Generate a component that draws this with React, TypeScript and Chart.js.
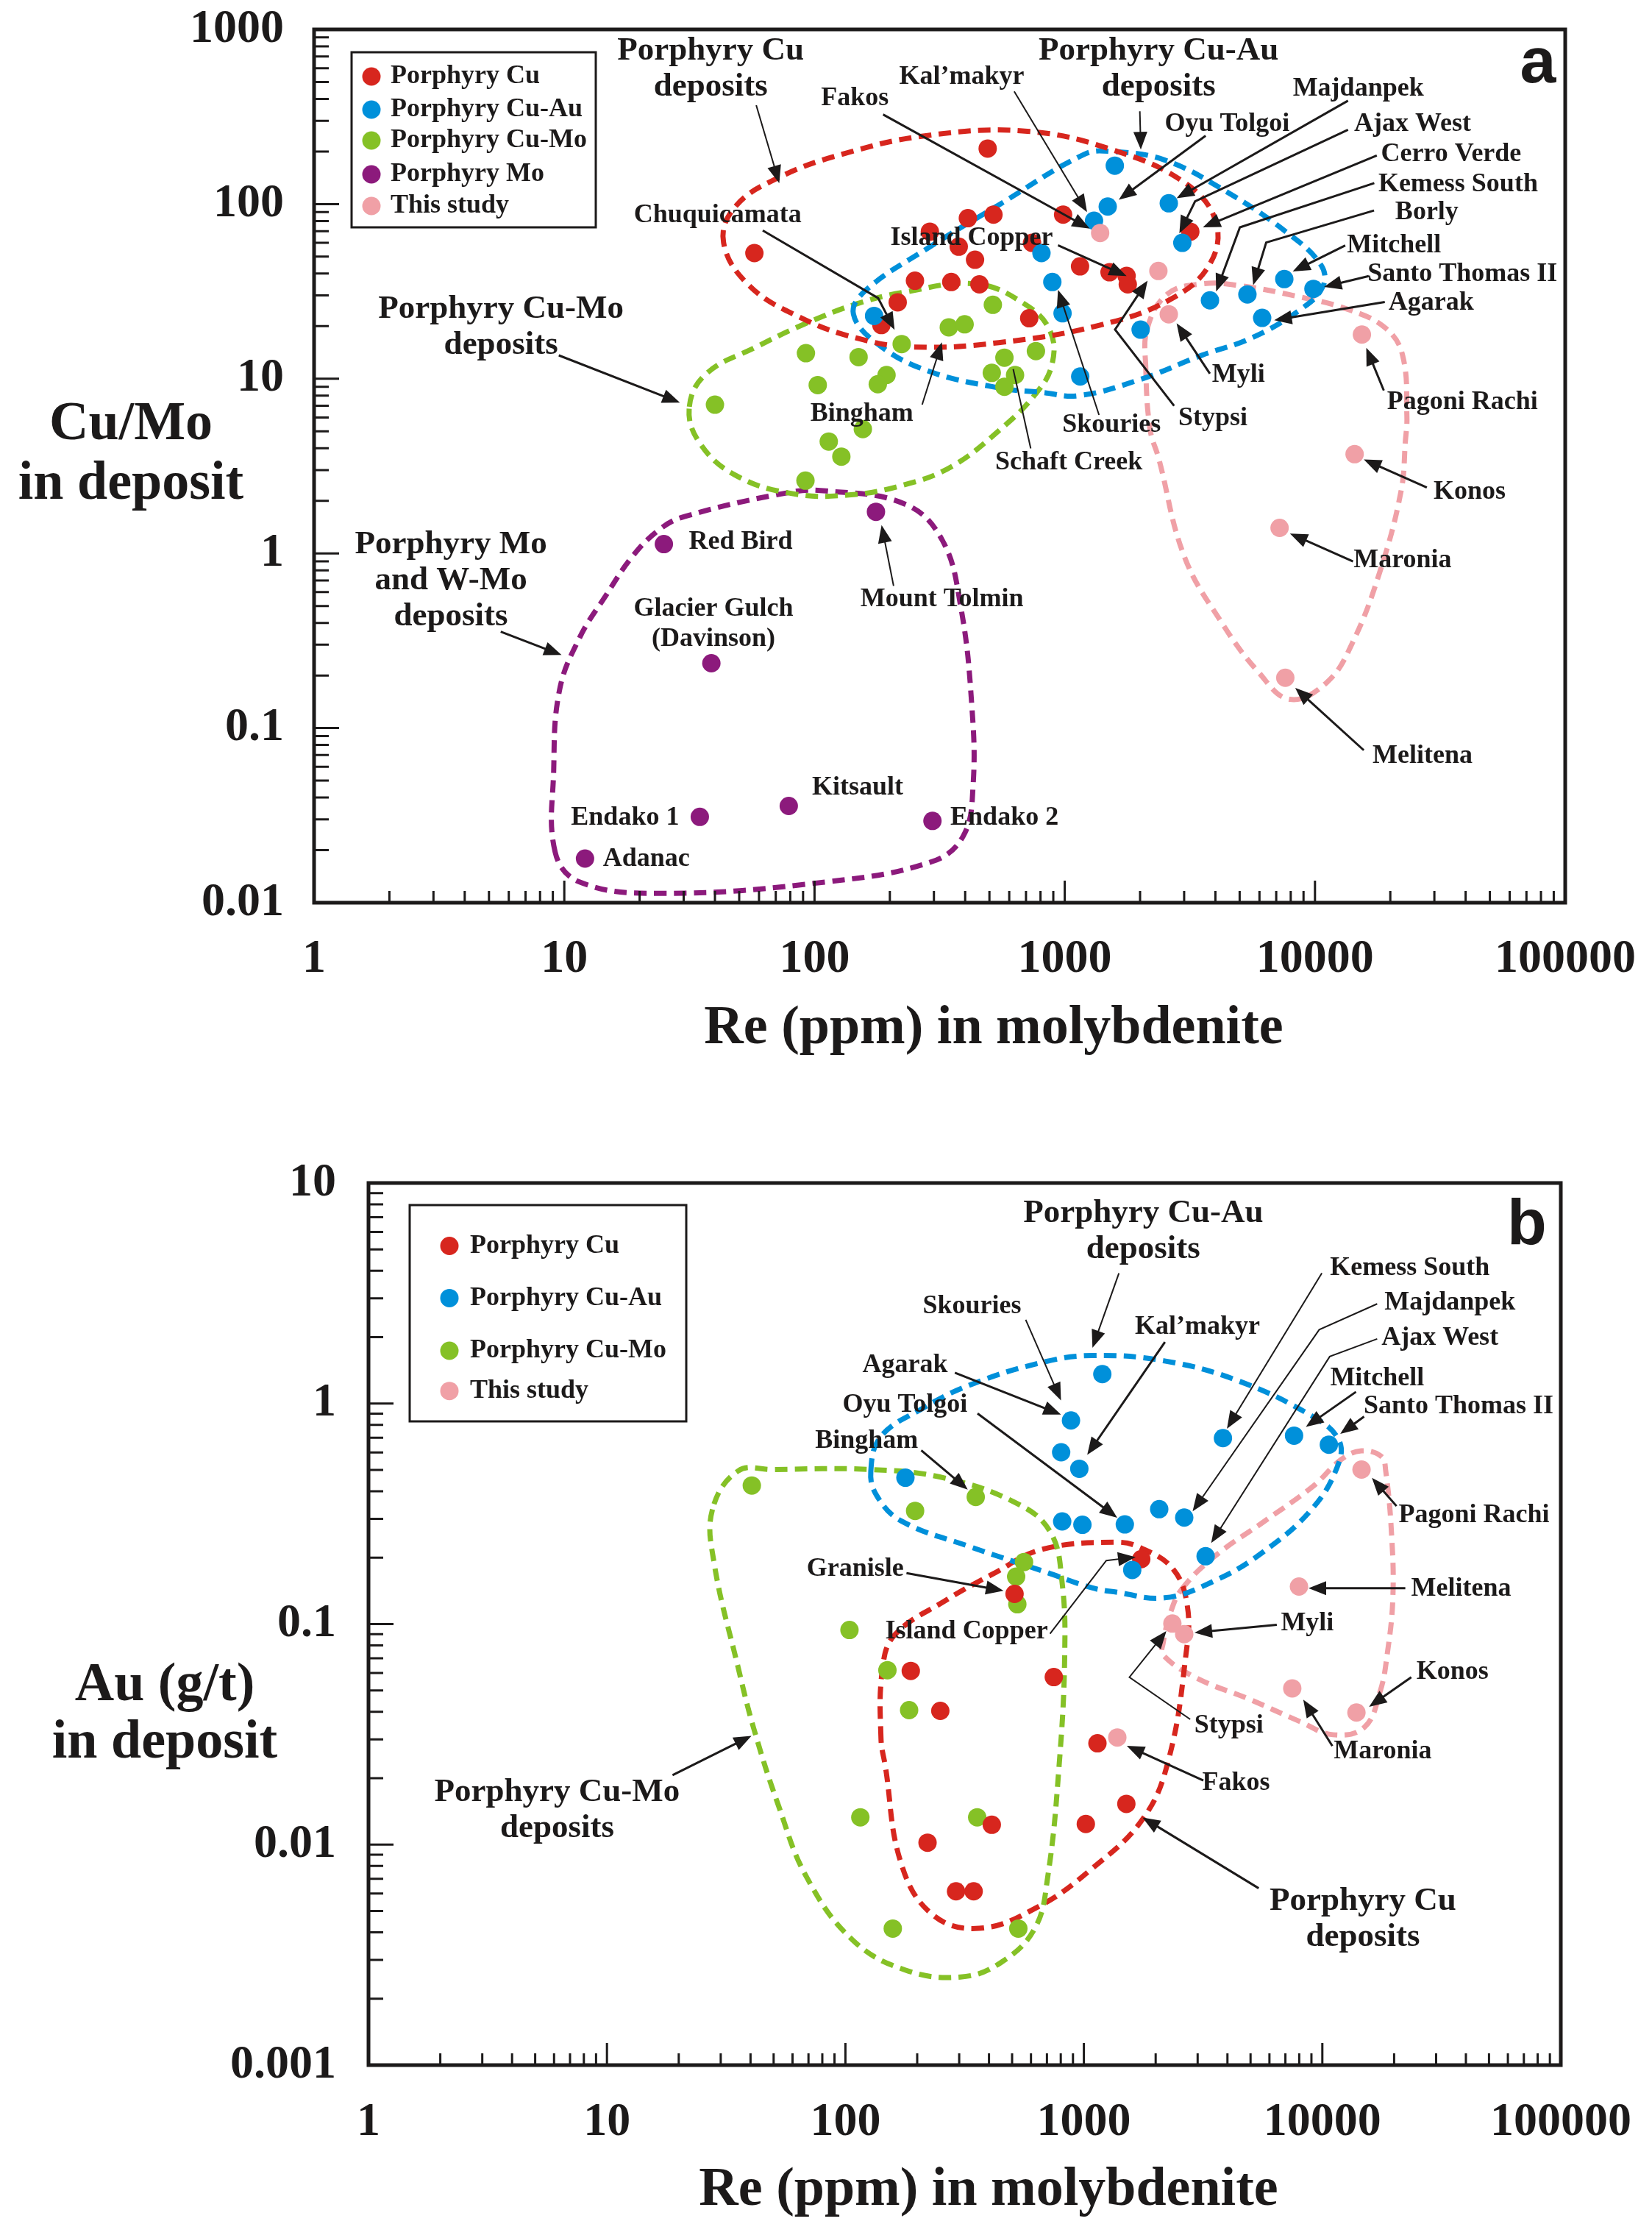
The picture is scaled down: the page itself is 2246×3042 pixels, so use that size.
import React, { useEffect, useRef } from 'react';
import { Chart, registerables } from 'chart.js';

Chart.register(...registerables);

const RED = '#d7261e';
const BLUE = '#0090da';
const GREEN = '#85c126';
const PURPLE = '#8c1a7c';
const PINK = '#f0a0a6';
const INK = '#1c1a1a';
const SERIF = '"Liberation Serif", "Times New Roman", serif';
const SANS = '"Liberation Sans", Arial, sans-serif';

// ---------------- tick labels ----------------
const xTickLabels = ['1', '10', '100', '1000', '10000', '100000']; // 10^0 .. 10^5
const yTickLabelsA = ['0.01', '0.1', '1', '10', '100', '1000']; // 10^-2 .. 10^3
const yTickLabelsB = ['0.001', '0.01', '0.1', '1', '10']; // 10^-3 .. 10^1

// ---------------- panel a : Re (ppm) vs Cu/Mo ----------------
const cuA = [[57.5, 52.4], [492, 208], [410, 83], [519, 87], [289, 69.5], [377, 57], [438, 48], [985, 87], [740, 60], [1151, 44], [252, 36.4], [352, 35.8], [456, 34.7], [215, 27.4], [185, 20.3], [721, 22.2], [1510, 40.7], [1767, 38.8], [1786, 34.7], [3175, 69.5]];
const cuAuA = [[173, 22.9], [807, 52.4], [892, 35.8], [980, 23.7], [1153, 10.3], [1585, 166], [1485, 96.8], [1309, 80.3], [2605, 101], [2950, 60], [2010, 19.1], [3805, 28.1], [5370, 30.4], [7540, 37.2], [9860, 32.7], [6150, 22.3]];
const cuMoA = [[516, 26.5], [344, 19.7], [398, 20.5], [223, 15.8], [92.4, 14.0], [150, 13.3], [574, 13.2], [767, 14.4], [194, 10.5], [179, 9.3], [103, 9.2], [511, 10.8], [633, 10.5], [574, 9.0], [40, 7.1], [156, 5.15], [114, 4.37], [128, 3.58], [92, 2.61]];
const moA = [[25, 1.13], [38.7, 0.235], [34.8, 0.031], [78.9, 0.0358], [12.1, 0.0179], [176, 1.73], [296, 0.0294]];
const studyA = [[1385, 68.3], [2367, 41.4], [2605, 23.4], [15400, 17.9], [14400, 3.7], [7220, 1.40], [7610, 0.194]];

// envelopes (panel a)
const cuEnvA = [[43.3, 60.2], [48.1, 96.3], [71.3, 141], [129, 193], [283, 247], [709, 261], [1559, 204], [3006, 133], [4010, 79.8], [3802, 45.4], [2636, 28.4], [1367, 20.2], [545, 16.1], [248, 15.2], [147, 17.1], [86.8, 22.6], [54.8, 34.2]];
const cuAuEnvA = [[143, 23.5], [161, 32.3], [283, 55.8], [552, 100], [1199, 193], [1538, 200], [2500, 179], [4395, 118.5], [7730, 68.7], [10590, 44.6], [10740, 33.6], [8710, 24.8], [5570, 17.1], [3516, 13.6], [2000, 9.9], [1137, 8.0], [809, 8.35], [552, 8.84], [283, 11.1], [179, 15.8]];
const cuMoEnvA = [[31.6, 6.92], [37.0, 10.7], [58.5, 15.2], [91.4, 20.6], [147, 26.8], [226, 31.2], [442, 34.9], [691, 26.8], [875, 18.7], [887, 11.9], [757, 8.04], [552, 5.12], [353, 3.14], [226, 2.46], [137, 2.16], [81.3, 2.20], [48.1, 2.81], [34.6, 4.33]];
const moEnvA = [[9.19, 0.01954], [9.07, 0.0571], [9.56, 0.1637], [11.5, 0.328], [14.7, 0.577], [18.7, 0.959], [24.0, 1.37], [30.4, 1.63], [80.2, 2.24], [111, 2.28], [229, 1.92], [323, 1.20], [383, 0.506], [425, 0.1355], [430, 0.0464], [393, 0.0241], [294, 0.01717], [111, 0.01315], [24.0, 0.01132], [11.5, 0.01315]];
const studyEnvA = [[2108, 11.5], [2137, 19.4], [2570, 30.5], [3517, 34.9], [4946, 34.2], [8703, 29.4], [13600, 24.9], [19130, 19.5], [22400, 13.6], [23300, 6.06], [22980, 4.41], [22090, 2.28], [18140, 0.780], [14150, 0.310], [11170, 0.183], [7940, 0.146], [5946, 0.209], [4226, 0.404], [3006, 0.959], [2371, 3.52], [2193, 5.12]];

// ---------------- panel b : Re (ppm) vs Au (g/t) ----------------
const cuB = [[1740, 0.197], [512, 0.137], [188, 0.0613], [748, 0.0575], [250, 0.0404], [1140, 0.0288], [1507, 0.0153], [411, 0.0123], [1019, 0.0124], [221, 0.0102], [291, 0.00614], [345, 0.00614]];
const cuAuB = [[1195, 1.36], [883, 0.838], [803, 0.601], [957, 0.506], [178.5, 0.461], [811, 0.292], [986, 0.282], [1485, 0.283], [1595, 0.176], [3830, 0.697], [7610, 0.715], [10650, 0.651], [2070, 0.332], [2635, 0.304], [3240, 0.203]];
const cuMoB = [[40.5, 0.425], [352, 0.377], [196, 0.326], [561, 0.191], [520, 0.164], [526, 0.123], [104, 0.094], [150, 0.0618], [185, 0.0407], [115.5, 0.0133], [357, 0.0133], [158, 0.00416], [531, 0.00416]];
const studyB = [[14600, 0.502], [7980, 0.148], [2350, 0.1005], [2635, 0.090], [1381, 0.0306], [7480, 0.0511], [13900, 0.0397]];

// envelopes (panel b)
const cuAuEnvB = [[127.8, 0.495], [140.7, 0.708], [207, 0.940], [330, 1.21], [667, 1.535], [1080, 1.65], [2180, 1.56], [4460, 1.265], [9120, 0.873], [11690, 0.688], [11690, 0.534], [9120, 0.336], [5640, 0.212], [3530, 0.157], [2180, 0.1315], [1365, 0.1396], [1080, 0.146], [667, 0.1745], [330, 0.225], [171, 0.294], [135, 0.384]];
const cuMoEnvB = [[27.7, 0.331], [28.1, 0.191], [35.5, 0.0635], [41.3, 0.0335], [52.2, 0.0152], [68.8, 0.00711], [107, 0.0037], [178, 0.0027], [304, 0.00251], [447, 0.00291], [622, 0.00416], [705, 0.00711], [787, 0.0227], [831, 0.0724], [809, 0.157], [724, 0.261], [528, 0.351], [261, 0.459], [128, 0.502], [49.4, 0.502], [35.5, 0.495]];
const cuEnvB = [[141, 0.0302], [143, 0.0625], [161, 0.0893], [262, 0.1276], [418, 0.1694], [667, 0.218], [1365, 0.235], [1725, 0.222], [2367, 0.1775], [2717, 0.1205], [2679, 0.0726], [2271, 0.0245], [1770, 0.0131], [1064, 0.00767], [640, 0.00521], [364, 0.00417], [231, 0.00483], [171, 0.00826], [147, 0.0227]];
const studyEnvB = [[2572, 0.1438], [3530, 0.2025], [5640, 0.2897], [9120, 0.4207], [12020, 0.558], [14580, 0.610], [17690, 0.575], [18440, 0.495], [19490, 0.261], [19760, 0.1318], [18700, 0.0726], [17460, 0.0493], [15000, 0.0340], [11070, 0.0315], [8070, 0.0361], [4920, 0.0457], [2950, 0.0571], [2148, 0.0724], [2148, 0.0817], [2303, 0.1117]];

// ---------------- annotations (positions as log10 data coordinates) ----------------
const annA = [
  { t: ['Porphyry Cu', 'deposits'], at: [1.585, 2.772], big: true, path: [[1.767, 2.566], [1.859, 2.120]], thin: true },
  { t: ['Porphyry Cu-Au', 'deposits'], at: [3.375, 2.772], big: true, path: [[3.300, 2.531], [3.304, 2.312]], thin: true },
  { t: ['Porphyry Cu-Mo', 'deposits'], at: [0.747, 1.293], big: true, path: [[0.978, 1.134], [1.462, 0.863]] },
  { t: ['Porphyry Mo', 'and W-Mo', 'deposits'], at: [0.547, -0.157], big: true, path: [[0.746, -0.448], [0.989, -0.582]] },
  { t: ['Chuquicamata'], at: [1.613, 1.935], path: [[1.793, 1.849], [2.254, 1.462], [2.320, 1.280]] },
  { t: ['Kal’makyr'], at: [2.588, 2.727], path: [[2.798, 2.645], [3.089, 1.954]], thin: true },
  { t: ['Fakos'], at: [2.161, 2.604], path: [[2.274, 2.513], [3.100, 1.859]] },
  { t: ['Oyu Tolgoi'], at: [3.649, 2.457], path: [[3.563, 2.391], [3.216, 2.025]] },
  { t: ['Majdanpek'], at: [4.173, 2.662], path: [[4.132, 2.592], [3.447, 2.033]] },
  { t: ['Ajax West'], at: [4.390, 2.457], path: [[4.132, 2.426], [3.521, 2.016], [3.458, 1.832]] },
  { t: ['Cerro Verde'], at: [4.544, 2.286], path: [[4.247, 2.278], [3.552, 1.867]] },
  { t: ['Kemess South'], at: [4.572, 2.114], path: [[4.237, 2.120], [3.700, 1.867], [3.605, 1.499]] },
  { t: ['Borly'], at: [4.447, 1.951], path: [[4.236, 1.963], [3.805, 1.780], [3.753, 1.536]] },
  { t: ['Mitchell'], at: [4.316, 1.763], path: [[4.121, 1.763], [3.911, 1.614]] },
  { t: ['Santo Thomas II'], at: [4.589, 1.600], path: [[4.215, 1.588], [4.036, 1.526]] },
  { t: ['Agarak'], at: [4.464, 1.436], path: [[4.279, 1.439], [3.837, 1.335]] },
  { t: ['Island Copper'], at: [2.628, 1.804], path: [[2.973, 1.764], [3.247, 1.588]] },
  { t: ['Myli'], at: [3.694, 1.020], path: [[3.580, 1.029], [3.447, 1.317]] },
  { t: ['Stypsi'], at: [3.592, 0.775], path: [[3.437, 0.845], [3.201, 1.282], [3.331, 1.562]] },
  { t: ['Skouries'], at: [3.187, 0.734], path: [[3.137, 0.793], [2.973, 1.509]], thin: true },
  { t: ['Bingham'], at: [2.189, 0.800], path: [[2.430, 0.852], [2.509, 1.209]], thin: true },
  { t: ['Schaft Creek'], at: [3.016, 0.522], path: [[2.864, 0.601], [2.794, 1.055]], thin: true, noHead: true },
  { t: ['Pagoni Rachi'], at: [4.589, 0.864], path: [[4.275, 0.933], [4.205, 1.177]] },
  { t: ['Konos'], at: [4.618, 0.350], path: [[4.447, 0.377], [4.195, 0.538]] },
  { t: ['Maronia'], at: [4.350, -0.042], path: [[4.152, -0.046], [3.900, 0.114]] },
  { t: ['Melitena'], at: [4.430, -1.162], path: [[4.195, -1.127], [3.921, -0.770]] },
  { t: ['Mount Tolmin'], at: [2.509, -0.263], path: [[2.316, -0.186], [2.268, 0.162]], thin: true },
  { t: ['Red Bird'], at: [1.705, 0.064] },
  { t: ['Glacier Gulch', '(Davinson)'], at: [1.596, -0.406] },
  { t: ['Endako 1'], at: [1.243, -1.513] },
  { t: ['Adanac'], at: [1.328, -1.750] },
  { t: ['Kitsault'], at: [2.172, -1.342] },
  { t: ['Endako 2'], at: [2.759, -1.513] },
];

const annB = [
  { t: ['Porphyry Cu-Au', 'deposits'], at: [3.249, 0.781], big: true, path: [[3.147, 0.591], [3.036, 0.253]], thin: true },
  { t: ['Skouries'], at: [2.531, 0.439], path: [[2.756, 0.380], [2.904, 0.014]], thin: true },
  { t: ['Kal’makyr'], at: [3.476, 0.348], path: [[3.340, 0.279], [3.014, -0.233]] },
  { t: ['Agarak'], at: [2.250, 0.173], path: [[2.459, 0.140], [2.904, -0.050]] },
  { t: ['Oyu Tolgoi'], at: [2.250, -0.008], path: [[2.554, -0.045], [3.140, -0.518]] },
  { t: ['Bingham'], at: [2.089, -0.169], path: [[2.318, -0.212], [2.513, -0.390]] },
  { t: ['Kemess South'], at: [4.367, 0.613], path: [[3.998, 0.591], [3.600, -0.114]], thin: true },
  { t: ['Majdanpek'], at: [4.535, 0.458], path: [[4.230, 0.452], [3.987, 0.335], [3.456, -0.489]], thin: true },
  { t: ['Ajax West'], at: [4.493, 0.296], path: [[4.230, 0.293], [4.031, 0.213], [3.534, -0.632]], thin: true },
  { t: ['Mitchell'], at: [4.230, 0.115], path: [[4.141, 0.053], [3.931, -0.106]] },
  { t: ['Santo Thomas II'], at: [4.571, -0.014], path: [[4.175, -0.059], [4.075, -0.138]] },
  { t: ['Pagoni Rachi'], at: [4.636, -0.506], path: [[4.311, -0.465], [4.208, -0.337]] },
  { t: ['Granisle'], at: [2.041, -0.750], path: [[2.256, -0.769], [2.663, -0.849]] },
  { t: ['Island Copper'], at: [2.508, -1.035], path: [[2.858, -1.044], [3.094, -0.712], [3.217, -0.696]], thin: true },
  { t: ['Myli'], at: [3.937, -0.996], path: [[3.809, -1.003], [3.464, -1.039]] },
  { t: ['Stypsi'], at: [3.608, -1.461], path: [[3.446, -1.432], [3.191, -1.241], [3.346, -1.032]], thin: true },
  { t: ['Fakos'], at: [3.638, -1.720], path: [[3.501, -1.709], [3.180, -1.552]] },
  { t: ['Porphyry Cu', 'deposits'], at: [4.170, -2.338], big: true, path: [[3.733, -2.198], [3.246, -1.877]] },
  { t: ['Porphyry Cu-Mo', 'deposits'], at: [0.791, -1.846], big: true, path: [[1.275, -1.685], [1.606, -1.507]] },
  { t: ['Melitena'], at: [4.582, -0.842], path: [[4.348, -0.837], [3.942, -0.837]] },
  { t: ['Konos'], at: [4.546, -1.217], path: [[4.373, -1.241], [4.196, -1.375]] },
  { t: ['Maronia'], at: [4.253, -1.579], path: [[4.042, -1.553], [3.920, -1.343]] },
];

const legendA = [['Porphyry Cu', RED], ['Porphyry Cu-Au', BLUE], ['Porphyry Cu-Mo', GREEN], ['Porphyry Mo', PURPLE], ['This study', PINK]];
const legendB = [['Porphyry Cu', RED], ['Porphyry Cu-Au', BLUE], ['Porphyry Cu-Mo', GREEN], ['This study', PINK]];

// ---------------- helpers ----------------
const toPts = (a: number[][]) => a.map(([x, y]) => ({ x, y }));

function envelope(a: number[][], color: string) {
  const n = a.length;
  const data = toPts([a[n - 1], ...a, a[0], a[1]]);
  const last = data.length - 1;
  return {
    type: 'line',
    data,
    borderColor: color,
    borderWidth: 7,
    borderDash: [17, 10],
    borderCapStyle: 'butt',
    pointRadius: 0,
    pointHoverRadius: 0,
    pointHitRadius: 0,
    fill: false,
    showLine: true,
    tension: 0.4,
    order: 10,
    segment: {
      borderColor: (ctx: any) => (ctx.p0DataIndex === 0 || ctx.p1DataIndex === last ? 'rgba(0,0,0,0)' : color),
    },
  };
}

function pointSet(label: string, a: number[][], color: string, order: number) {
  return {
    type: 'scatter',
    label,
    data: toPts(a),
    backgroundColor: color,
    borderColor: color,
    borderWidth: 0,
    pointRadius: 12.5,
    pointHoverRadius: 12.5,
    showLine: false,
    order,
  };
}

function drawArrow(ctx: CanvasRenderingContext2D, path: number[][], thin: boolean, head: boolean) {
  const n = path.length;
  const [tx, ty] = path[n - 1];
  const [px, py] = path[n - 2];
  let dx = tx - px;
  let dy = ty - py;
  const d = Math.hypot(dx, dy) || 1;
  dx /= d;
  dy /= d;
  const L = 24;
  const W = 9.5;
  ctx.lineWidth = thin ? 2 : 3;
  ctx.beginPath();
  ctx.moveTo(path[0][0], path[0][1]);
  for (let i = 1; i < n - 1; i++) ctx.lineTo(path[i][0], path[i][1]);
  if (head) ctx.lineTo(tx - dx * L * 0.7, ty - dy * L * 0.7);
  else ctx.lineTo(tx, ty);
  ctx.stroke();
  if (head) {
    ctx.beginPath();
    ctx.moveTo(tx, ty);
    ctx.lineTo(tx - dx * L - dy * W, ty - dy * L + dx * W);
    ctx.lineTo(tx - dx * L + dy * W, ty - dy * L - dx * W);
    ctx.closePath();
    ctx.fill();
  }
}

function overlayPlugin(p: any) {
  return {
    id: 'overlay_' + p.name,
    afterDatasetsDraw(chart: any) {
      const ctx: CanvasRenderingContext2D = chart.ctx;
      const a = chart.chartArea;
      const xs = chart.scales.x;
      const ys = chart.scales.y;
      const X = (e: number) => xs.getPixelForValue(Math.pow(10, e));
      const Y = (e: number) => ys.getPixelForValue(Math.pow(10, e));
      ctx.save();
      ctx.strokeStyle = INK;
      ctx.fillStyle = INK;

      // inward tick marks
      ctx.lineWidth = 3;
      ctx.beginPath();
      for (let e = p.xExp[0]; e < p.xExp[1]; e++) {
        for (let k = 1; k <= 9; k++) {
          const px = xs.getPixelForValue(k * Math.pow(10, e));
          const len = k === 1 ? 30 : 16;
          ctx.moveTo(px, a.bottom);
          ctx.lineTo(px, a.bottom - len);
        }
      }
      for (let e = p.yExp[0]; e < p.yExp[1]; e++) {
        for (let k = 1; k <= 9; k++) {
          const py = ys.getPixelForValue(k * Math.pow(10, e));
          const len = k === 1 ? 34 : 20;
          ctx.moveTo(a.left, py);
          ctx.lineTo(a.left + len, py);
        }
      }
      ctx.stroke();

      // frame
      ctx.lineWidth = 5;
      ctx.strokeRect(a.left, a.top, a.right - a.left, a.bottom - a.top);

      // legend
      const lg = p.legendBox;
      ctx.lineWidth = 3;
      ctx.strokeRect(a.left + lg.x, a.top + lg.y, lg.w, lg.h);
      ctx.font = `bold 36px ${SERIF}`;
      ctx.textAlign = 'left';
      ctx.textBaseline = 'middle';
      p.legend.forEach((item: any, i: number) => {
        const ry = a.top + lg.rows[i];
        ctx.fillStyle = item[1];
        ctx.beginPath();
        ctx.arc(a.left + lg.mx, ry, 12.5, 0, Math.PI * 2);
        ctx.fill();
        ctx.fillStyle = INK;
        ctx.fillText(item[0], a.left + lg.tx, ry);
      });

      // annotations
      ctx.textAlign = 'center';
      ctx.textBaseline = 'middle';
      for (const an of p.ann) {
        const size = an.big ? 45 : 36;
        const gap = an.big ? 49 : 41;
        ctx.font = `bold ${size}px ${SERIF}`;
        ctx.fillStyle = INK;
        const cx = X(an.at[0]);
        const cy = Y(an.at[1]);
        an.t.forEach((s: string, i: number) => ctx.fillText(s, cx, cy + (i - (an.t.length - 1) / 2) * gap));
        if (an.path) {
          const pix = an.path.map((q: number[]) => [X(q[0]), Y(q[1])]);
          drawArrow(ctx, pix, !!an.thin, !an.noHead);
        }
      }

      // axis titles
      ctx.fillStyle = INK;
      ctx.font = `bold 74px ${SERIF}`;
      ctx.textAlign = 'center';
      ctx.textBaseline = 'alphabetic';
      p.yTitle.lines.forEach((s: string, i: number) => ctx.fillText(s, p.yTitle.x, p.yTitle.y[i]));
      ctx.fillText('Re (ppm) in molybdenite', p.xTitle.x, p.xTitle.y);

      // panel letter
      ctx.font = `bold 88px ${SANS}`;
      ctx.fillText(p.letter.t, p.letter.x, p.letter.y);
      ctx.restore();
    },
  };
}

function buildConfig(p: any) {
  const tickFont = { family: SERIF, size: 64, weight: 'bold' };
  return {
    type: 'scatter',
    data: { datasets: [...p.envelopes, ...p.series] },
    options: {
      animation: false,
      responsive: false,
      devicePixelRatio: 1,
      events: [],
      layout: { padding: { left: 0, top: p.area.top, right: 2246 - p.area.right, bottom: p.height - p.area.bottom - 200 } },
      plugins: { legend: { display: false }, tooltip: { enabled: false }, title: { display: false } },
      scales: {
        x: {
          type: 'logarithmic',
          position: 'bottom',
          min: 1,
          max: 100000,
          grid: { display: false },
          border: { display: false },
          afterBuildTicks: (s: any) => {
            s.ticks = xTickLabels.map((_, i) => ({ value: Math.pow(10, p.xExp[0] + i) }));
          },
          ticks: {
            autoSkip: false,
            maxRotation: 0,
            minRotation: 0,
            padding: p.xPad,
            color: INK,
            font: tickFont,
            callback: (v: number) => xTickLabels[Math.round(Math.log10(v)) - p.xExp[0]] ?? '',
          },
          afterFit: (s: any) => {
            s.height = 200;
            s.paddingLeft = 0;
            s.paddingRight = 0;
          },
        },
        y: {
          type: 'logarithmic',
          position: 'left',
          min: Math.pow(10, p.yExp[0]),
          max: Math.pow(10, p.yExp[1]),
          grid: { display: false },
          border: { display: false },
          afterBuildTicks: (s: any) => {
            s.ticks = p.yLabels.map((_: string, i: number) => ({ value: Math.pow(10, p.yExp[0] + i) }));
          },
          ticks: {
            autoSkip: false,
            padding: p.yPad,
            color: INK,
            font: tickFont,
            callback: (v: number) => p.yLabels[Math.round(Math.log10(v)) - p.yExp[0]] ?? '',
          },
          afterFit: (s: any) => {
            s.width = p.area.left;
            s.paddingTop = 0;
            s.paddingBottom = 0;
          },
        },
      },
    },
    plugins: [overlayPlugin(p)],
  };
}

const panelA = {
  name: 'a',
  top: 0,
  height: 1500,
  area: { left: 427, top: 40, right: 2128, bottom: 1227 },
  xExp: [0, 5],
  yExp: [-2, 3],
  yLabels: yTickLabelsA,
  xPad: 31,
  yPad: 33,
  envelopes: [envelope(cuEnvA, RED), envelope(cuAuEnvA, BLUE), envelope(cuMoEnvA, GREEN), envelope(moEnvA, PURPLE), envelope(studyEnvA, PINK)],
  series: [
    pointSet('Porphyry Cu-Mo', cuMoA, GREEN, 5),
    pointSet('Porphyry Cu', cuA, RED, 4),
    pointSet('Porphyry Cu-Au', cuAuA, BLUE, 3),
    pointSet('Porphyry Mo', moA, PURPLE, 2),
    pointSet('This study', studyA, PINK, 1),
  ],
  ann: annA,
  legend: legendA,
  legendBox: { x: 51, y: 31, w: 332, h: 238, mx: 78, tx: 104, rows: [64, 109, 151, 197, 240] },
  yTitle: { lines: ['Cu/Mo', 'in deposit'], x: 178, y: [597, 678] },
  xTitle: { x: 1351, y: 1418 },
  letter: { t: 'a', x: 2091, y: 112 },
};

const panelB = {
  name: 'b',
  top: 1500,
  height: 1542,
  area: { left: 501, top: 108, right: 2122, bottom: 1307 },
  xExp: [0, 5],
  yExp: [-3, 1],
  yLabels: yTickLabelsB,
  xPad: 32,
  yPad: 36,
  envelopes: [envelope(cuAuEnvB, BLUE), envelope(cuMoEnvB, GREEN), envelope(cuEnvB, RED), envelope(studyEnvB, PINK)],
  series: [
    pointSet('Porphyry Cu-Mo', cuMoB, GREEN, 5),
    pointSet('Porphyry Cu', cuB, RED, 4),
    pointSet('Porphyry Cu-Au', cuAuB, BLUE, 3),
    pointSet('This study', studyB, PINK, 1),
  ],
  ann: annB,
  legend: legendB,
  legendBox: { x: 56, y: 30, w: 376, h: 294, mx: 110, tx: 138, rows: [85.5, 156.4, 228, 282.7] },
  yTitle: { lines: ['Au (g/t)', 'in deposit'], x: 224, y: [811, 889] },
  xTitle: { x: 1344, y: 1497 },
  letter: { t: 'b', x: 2076, y: 191 },
};

function Panel({ cfg }: { cfg: any }) {
  const ref = useRef<HTMLCanvasElement | null>(null);
  useEffect(() => {
    if (!ref.current) return;
    const chart = new Chart(ref.current, buildConfig(cfg) as any);
    return () => chart.destroy();
  }, [cfg]);
  return (
    <canvas
      ref={ref}
      width={2246}
      height={cfg.height}
      style={{ position: 'absolute', left: 0, top: cfg.top, width: 2246, height: cfg.height }}
    />
  );
}

export default function App() {
  return (
    <div style={{ position: 'absolute', left: 0, top: 0, width: 2246, height: 3042, background: '#ffffff', overflow: 'hidden' }}>
      <Panel cfg={panelA} />
      <Panel cfg={panelB} />
    </div>
  );
}
